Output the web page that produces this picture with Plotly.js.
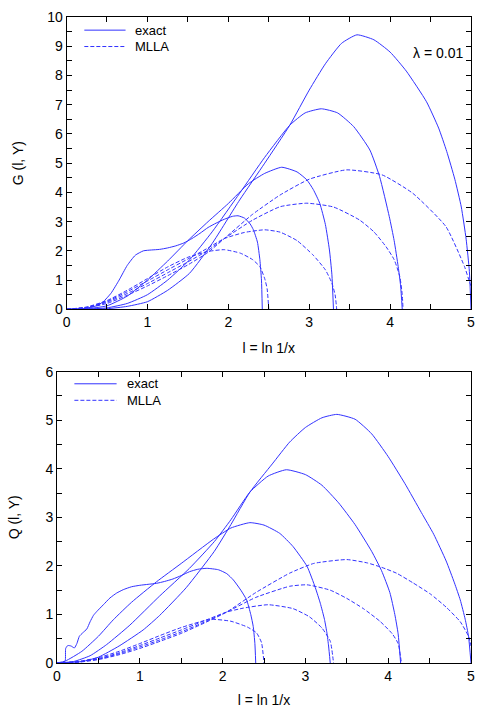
<!DOCTYPE html>
<html>
<head>
<meta charset="utf-8">
<script src="https://cdn.plot.ly/plotly-3.0.1.min.js"></script>
<style>body{margin:0;background:#fff}</style>
</head>
<body>
<div id="myPlot" style="width:496px;height:708px"></div>
<script>
// G(l,Y), exact solutions (Y = 2.4, 3.3, 4.15, 5)
var gExL1 = [0, 0.2, 0.35, 0.45, 0.55, 0.65, 0.75, 0.85, 0.95, 1.05, 1.15, 1.25, 1.35, 1.45, 1.55, 1.65, 1.75, 1.85, 1.95, 2.05, 2.12, 2.2, 2.27, 2.31, 2.36, 2.39, 2.41, 2.42];
var gExV1 = [0, 0.02, 0.1, 0.25, 0.55, 1.0, 1.5, 1.85, 2.0, 2.03, 2.05, 2.1, 2.17, 2.27, 2.42, 2.6, 2.8, 2.95, 3.08, 3.18, 3.2, 3.12, 2.92, 2.72, 2.3, 1.7, 1.0, 0];
var gExL2 = [0, 0.25, 0.5, 0.75, 1.0, 1.25, 1.5, 1.75, 2.0, 2.25, 2.45, 2.66, 2.85, 2.97, 3.05, 3.13, 3.2, 3.25, 3.28, 3.3];
var gExV2 = [0, 0.02, 0.12, 0.45, 1.0, 1.65, 2.35, 3.0, 3.62, 4.3, 4.65, 4.86, 4.7, 4.43, 4.1, 3.63, 2.9, 2.03, 1.2, 0];
var gExL3 = [0, 0.25, 0.5, 0.75, 1.0, 1.25, 1.52, 1.8, 2.14, 2.45, 2.76, 2.95, 3.15, 3.35, 3.55, 3.75, 3.87, 3.99, 4.05, 4.1, 4.13, 4.15];
var gExV3 = [0, 0.01, 0.05, 0.2, 0.5, 1.0, 1.69, 2.65, 3.97, 5.2, 6.3, 6.72, 6.86, 6.72, 6.25, 5.45, 4.54, 3.17, 2.35, 1.46, 0.8, 0];
var gExL4 = [0, 0.25, 0.5, 0.75, 1.0, 1.25, 1.52, 1.8, 2.14, 2.45, 2.76, 3.0, 3.2, 3.4, 3.59, 3.8, 4.0, 4.2, 4.45, 4.6, 4.7, 4.8, 4.88, 4.94, 4.98, 5.0];
var gExV4 = [0, 0.0, 0.02, 0.1, 0.26, 0.65, 1.23, 2.25, 3.74, 5.0, 6.3, 7.5, 8.4, 9.1, 9.39, 9.22, 8.8, 8.15, 7.1, 6.2, 5.4, 4.45, 3.5, 2.4, 1.3, 0];

// G(l,Y), MLLA
var gMlL1 = [0, 0.25, 0.5, 0.75, 1.0, 1.25, 1.5, 1.75, 1.95, 2.15, 2.3, 2.39, 2.45, 2.48, 2.5];
var gMlV1 = [0, 0.08, 0.3, 0.65, 1.05, 1.45, 1.78, 1.98, 2.04, 1.92, 1.7, 1.46, 1.05, 0.7, 0];
var gMlL2 = [0, 0.25, 0.5, 0.75, 1.0, 1.25, 1.5, 1.75, 1.95, 2.2, 2.45, 2.64, 2.85, 3.05, 3.2, 3.28, 3.32, 3.34];
var gMlV2 = [0, 0.07, 0.27, 0.6, 0.97, 1.35, 1.72, 2.1, 2.42, 2.63, 2.72, 2.64, 2.35, 1.85, 1.35, 0.9, 0.5, 0];
var gMlL3 = [0, 0.25, 0.5, 0.75, 1.0, 1.25, 1.5, 1.75, 1.95, 2.3, 2.64, 2.97, 3.3, 3.62, 3.8, 3.95, 4.05, 4.12, 4.15, 4.16];
var gMlV3 = [0, 0.06, 0.24, 0.54, 0.88, 1.25, 1.62, 2.02, 2.42, 3.05, 3.51, 3.63, 3.5, 3.06, 2.65, 2.14, 1.7, 1.12, 0.5, 0];
var gMlL4 = [0, 0.25, 0.5, 0.75, 1.0, 1.25, 1.5, 1.75, 1.95, 2.3, 2.64, 3.0, 3.46, 3.9, 4.28, 4.69, 4.92, 4.98, 5.0];
var gMlV4 = [0, 0.05, 0.2, 0.48, 0.8, 1.15, 1.52, 1.95, 2.42, 3.25, 3.91, 4.45, 4.77, 4.6, 3.97, 2.83, 1.46, 0.95, 0.8];

// Q(l,Y), exact
var qExL1 = [0, 0.08, 0.1, 0.105, 0.13, 0.17, 0.21, 0.24, 0.27, 0.31, 0.36, 0.4, 0.44, 0.48, 0.56, 0.64, 0.72, 0.8, 0.9, 1.0, 1.1, 1.2, 1.3, 1.4, 1.5, 1.6, 1.7, 1.81, 1.95, 2.05, 2.13, 2.22, 2.29, 2.34, 2.37, 2.39, 2.4];
var qExV1 = [0, 0.01, 0.05, 0.3, 0.36, 0.35, 0.31, 0.4, 0.55, 0.62, 0.7, 0.85, 0.98, 1.06, 1.2, 1.34, 1.44, 1.51, 1.57, 1.6, 1.62, 1.64, 1.68, 1.73, 1.8, 1.88, 1.93, 1.95, 1.92, 1.84, 1.71, 1.5, 1.3, 1.0, 0.75, 0.4, 0];
var qExL2 = [0, 0.1, 0.3, 0.5, 0.68, 0.9, 1.2, 1.5, 1.89, 2.1, 2.33, 2.5, 2.69, 2.85, 3.02, 3.12, 3.18, 3.23, 3.26, 3.28, 3.3];
var qExV2 = [0, 0.04, 0.24, 0.55, 0.89, 1.25, 1.67, 2.05, 2.55, 2.78, 2.89, 2.84, 2.67, 2.4, 1.99, 1.55, 1.23, 0.9, 0.62, 0.35, 0];
var qExL3 = [0, 0.2, 0.4, 0.6, 0.88, 1.24, 1.6, 1.9, 2.1, 2.33, 2.55, 2.77, 3.0, 3.2, 3.4, 3.6, 3.8, 3.92, 4.02, 4.08, 4.12, 4.15];
var qExV3 = [0, 0.03, 0.15, 0.38, 0.78, 1.38, 1.95, 2.5, 2.95, 3.52, 3.85, 3.98, 3.88, 3.66, 3.3, 2.85, 2.3, 1.9, 1.45, 1.0, 0.6, 0];
var qExL4 = [0, 0.3, 0.5, 0.75, 1.04, 1.24, 1.56, 1.9, 2.1, 2.33, 2.6, 2.81, 3.0, 3.2, 3.38, 3.6, 3.8, 4.0, 4.2, 4.4, 4.55, 4.7, 4.8, 4.87, 4.93, 4.97, 5.0];
var qExV4 = [0, 0.03, 0.12, 0.35, 0.68, 0.98, 1.55, 2.3, 2.85, 3.52, 4.1, 4.55, 4.85, 5.05, 5.12, 5.02, 4.72, 4.25, 3.7, 3.1, 2.65, 2.1, 1.65, 1.3, 0.9, 0.55, 0];

// Q(l,Y), MLLA
var qMlL1 = [0, 0.25, 0.5, 0.75, 1.0, 1.25, 1.5, 1.85, 2.1, 2.3, 2.41, 2.47, 2.5];
var qMlV1 = [0, 0.03, 0.11, 0.24, 0.4, 0.57, 0.73, 0.9, 0.86, 0.74, 0.62, 0.42, 0];
var qMlL2 = [0, 0.25, 0.5, 0.75, 1.0, 1.25, 1.5, 1.75, 2.05, 2.25, 2.55, 2.85, 3.05, 3.2, 3.3, 3.34];
var qMlV2 = [0, 0.025, 0.09, 0.21, 0.36, 0.52, 0.68, 0.85, 1.05, 1.13, 1.2, 1.12, 0.95, 0.72, 0.45, 0];
var qMlL3 = [0, 0.25, 0.5, 0.75, 1.0, 1.25, 1.5, 1.75, 2.05, 2.4, 2.81, 3.02, 3.3, 3.5, 3.7, 3.9, 4.05, 4.12, 4.16];
var qMlV3 = [0, 0.02, 0.08, 0.19, 0.33, 0.48, 0.64, 0.82, 1.05, 1.35, 1.58, 1.61, 1.5, 1.33, 1.12, 0.86, 0.6, 0.4, 0];
var qMlL4 = [0, 0.25, 0.5, 0.75, 1.0, 1.25, 1.5, 1.75, 2.05, 2.4, 2.81, 3.1, 3.5, 3.75, 3.92, 4.1, 4.3, 4.51, 4.7, 4.87, 4.97, 5.0];
var qMlV4 = [0, 0.015, 0.07, 0.17, 0.3, 0.45, 0.61, 0.8, 1.05, 1.45, 1.85, 2.05, 2.13, 2.06, 1.97, 1.85, 1.65, 1.42, 1.15, 0.85, 0.55, 0.35];

// legend labels
var keyNames = ["exact", "MLLA"];

var blue = "#3232ff";
var dashes = ["solid", "4px,2px"];

function curve(x, y, kind, xa, ya) {
  return {
    x: x, y: y, xaxis: xa, yaxis: ya,
    type: "scatter", mode: "lines",
    name: keyNames[kind], showlegend: false,
    line: {color: blue, width: 1, dash: dashes[kind], shape: "spline", smoothing: 0.5},
  };
}

var data = [
  curve(gExL1, gExV1, 0, "x", "y"),
  curve(gExL2, gExV2, 0, "x", "y"),
  curve(gExL3, gExV3, 0, "x", "y"),
  curve(gExL4, gExV4, 0, "x", "y"),
  curve(gMlL1, gMlV1, 1, "x", "y"),
  curve(gMlL2, gMlV2, 1, "x", "y"),
  curve(gMlL3, gMlV3, 1, "x", "y"),
  curve(gMlL4, gMlV4, 1, "x", "y"),
  curve(qExL1, qExV1, 0, "x2", "y2"),
  curve(qExL2, qExV2, 0, "x2", "y2"),
  curve(qExL3, qExV3, 0, "x2", "y2"),
  curve(qExL4, qExV4, 0, "x2", "y2"),
  curve(qMlL1, qMlV1, 1, "x2", "y2"),
  curve(qMlL2, qMlV2, 1, "x2", "y2"),
  curve(qMlL3, qMlV3, 1, "x2", "y2"),
  curve(qMlL4, qMlV4, 1, "x2", "y2"),
];

var font = {family: "Liberation Sans, Arial, sans-serif", size: 14, color: "#000"};
var keyFont = {family: "Liberation Sans, Arial, sans-serif", size: 13, color: "#000"};

function axis(extra) {
  var a = {
    showline: true, linecolor: "#000", linewidth: 1, mirror: "ticks",
    ticks: "inside", ticklen: 5, tickcolor: "#000",
    showgrid: false, zeroline: false, fixedrange: true,
    minor: {dtick: 0.5, ticks: "inside", ticklen: 5, tickcolor: "#000"},
    tickfont: font,
  };
  for (var k in extra) a[k] = extra[k];
  return a;
}

// hand-drawn key in each panel (line sample + label)
var shapes = [];
var annotations = [];
function key(xa, ya, x0, x1, ys) {
  for (var i = 0; i < 2; i++) {
    shapes.push({type: "line", xref: xa, yref: ya, x0: x0, x1: x1, y0: ys[i], y1: ys[i],
      line: {color: blue, width: 1, dash: dashes[i]}});
    annotations.push({xref: xa, yref: ya, x: x1 + 0.11, y: ys[i], text: keyNames[i],
      showarrow: false, xanchor: "left", yanchor: "middle", borderpad: 0, font: keyFont});
  }
}
key("x", "y", 0.22, 0.73, [9.55, 8.99]);
key("x2", "y2", 0.21, 0.72, [5.75, 5.41]);

annotations.push({xref: "x", yref: "y", x: 4.92, y: 8.78, text: "λ = 0.01", showarrow: false,
  xanchor: "right", yanchor: "middle", font: font});

var layout = {
  width: 496, height: 708,
  margin: {l: 57, r: 25, t: 17, b: 45},
  font: font,
  showlegend: false,
  paper_bgcolor: "#fff", plot_bgcolor: "#fff",
  xaxis: axis({domain: [0.023, 1], range: [0, 5], dtick: 1, anchor: "y",
    title: {text: "l = ln 1/x", font: font, standoff: 14}}),
  yaxis: axis({domain: [0.5475, 1], range: [0, 10], dtick: 1, anchor: "x",
    title: {text: "G (l, Y)", font: font, standoff: 20}}),
  xaxis2: axis({domain: [0, 1], range: [0, 5], dtick: 1, anchor: "y2",
    title: {text: "l = ln 1/x", font: font, standoff: 14}}),
  yaxis2: axis({domain: [0, 0.451], range: [0, 6], dtick: 1, anchor: "x2",
    title: {text: "Q (l, Y)", font: font, standoff: 22}}),
  shapes: shapes,
  annotations: annotations,
};

Plotly.newPlot("myPlot", data, layout, {staticPlot: true});
</script>
</body>
</html>
